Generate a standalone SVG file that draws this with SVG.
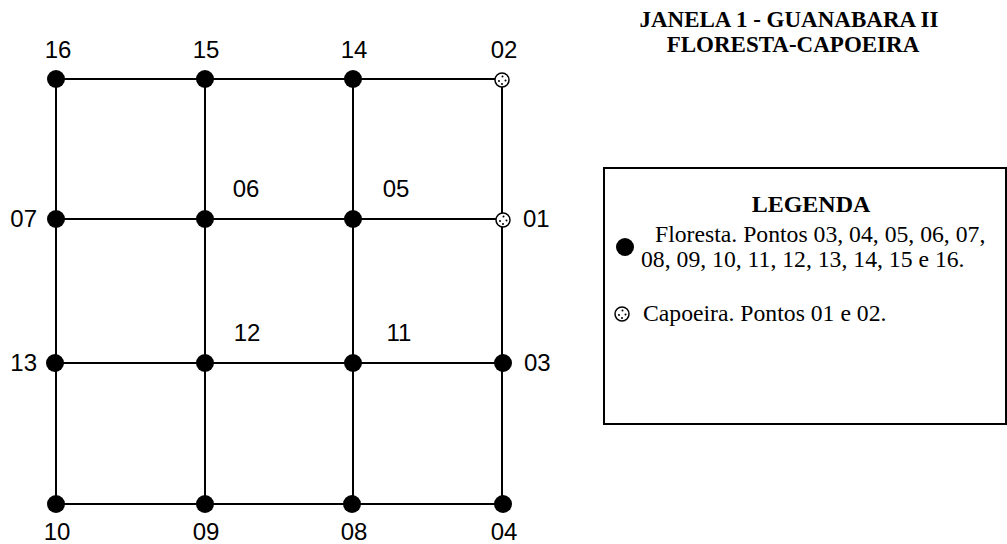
<svg xmlns="http://www.w3.org/2000/svg" width="1007" height="544" viewBox="0 0 1007 544">
<style>
.edge{stroke:#000;stroke-width:2;fill:none}
.dot{fill:#000}
.cap{fill:#fff;stroke:#000;stroke-width:1.5}
.lbl{font-family:"Liberation Sans",Arial,sans-serif;font-size:24px;fill:#000}
.ttl{font-family:"Liberation Serif","Times New Roman",serif;font-size:23px;font-weight:bold;fill:#000}
.leg{font-family:"Liberation Serif","Times New Roman",serif;font-size:23.7px;fill:#000}
</style>
<defs>
<g id="capsym">
<circle r="7" class="cap"/>
<circle cx="0.5" cy="-3.5" r="1" class="dot"/>
<circle cx="-3" cy="1" r="1" class="dot"/>
<circle cx="3.5" cy="0.5" r="1" class="dot"/>
<circle cx="0" cy="4" r="1" class="dot"/>
</g>
</defs>
<rect width="1007" height="544" fill="#fff"/>
<g id="connectors">
<line class="edge" x1="56" y1="79" x2="502" y2="79"/>
<line class="edge" x1="56" y1="219" x2="502" y2="219"/>
<line class="edge" x1="56" y1="363" x2="502" y2="363"/>
<line class="edge" x1="56" y1="504" x2="502" y2="504"/>
<line class="edge" x1="56" y1="79" x2="56" y2="504"/>
<line class="edge" x1="205" y1="79" x2="205" y2="504"/>
<line class="edge" x1="353" y1="79" x2="353" y2="504"/>
<line class="edge" x1="502" y1="79" x2="502" y2="504"/>
</g>
<g id="n16"><circle class="dot" cx="56" cy="79" r="9"/><text class="lbl" x="58" y="58" text-anchor="middle">16</text></g>
<g id="n15"><circle class="dot" cx="205" cy="79" r="9"/><text class="lbl" x="206" y="58" text-anchor="middle">15</text></g>
<g id="n14"><circle class="dot" cx="353" cy="79" r="9"/><text class="lbl" x="354" y="58" text-anchor="middle">14</text></g>
<g id="n02"><use href="#capsym" x="502" y="80"/><text class="lbl" x="504" y="58" text-anchor="middle">02</text></g>
<g id="n07"><circle class="dot" cx="56" cy="219" r="9"/><text class="lbl" x="37" y="227" text-anchor="end">07</text></g>
<g id="n06"><circle class="dot" cx="205" cy="219" r="9"/><text class="lbl" x="246" y="197" text-anchor="middle">06</text></g>
<g id="n05"><circle class="dot" cx="353" cy="219" r="9"/><text class="lbl" x="396" y="197" text-anchor="middle">05</text></g>
<g id="n01"><use href="#capsym" x="503" y="220"/><text class="lbl" x="523" y="227">01</text></g>
<g id="n13"><circle class="dot" cx="55" cy="363" r="9"/><text class="lbl" x="37" y="371" text-anchor="end">13</text></g>
<g id="n12"><circle class="dot" cx="205" cy="363" r="9"/><text class="lbl" x="247" y="341" text-anchor="middle">12</text></g>
<g id="n11"><circle class="dot" cx="353" cy="363" r="9"/><text class="lbl" x="399" y="341" text-anchor="middle">11</text></g>
<g id="n03"><circle class="dot" cx="503" cy="363" r="9"/><text class="lbl" x="524" y="371">03</text></g>
<g id="n10"><circle class="dot" cx="56" cy="504" r="9"/><text class="lbl" x="57" y="540" text-anchor="middle">10</text></g>
<g id="n09"><circle class="dot" cx="205" cy="504" r="9"/><text class="lbl" x="206" y="540" text-anchor="middle">09</text></g>
<g id="n08"><circle class="dot" cx="352" cy="504" r="9"/><text class="lbl" x="354" y="540" text-anchor="middle">08</text></g>
<g id="n04"><circle class="dot" cx="503" cy="504" r="9"/><text class="lbl" x="504" y="540" text-anchor="middle">04</text></g>
<g id="title">
<text class="ttl" x="789" y="27" text-anchor="middle">JANELA 1 - GUANABARA II</text>
<text class="ttl" x="793" y="52" text-anchor="middle">FLORESTA-CAPOEIRA</text>
</g>
<g id="legend">
<rect x="604" y="168" width="402" height="256" fill="none" stroke="#000" stroke-width="2"/>
<text class="ttl" x="811" y="212" text-anchor="middle" style="font-size:24px">LEGENDA</text>
<circle class="dot" cx="625" cy="247" r="9"/>
<text class="leg" x="655" y="242">Floresta. Pontos 03, 04, 05, 06, 07,</text>
<text class="leg" x="641" y="267">08, 09, 10, 11, 12, 13, 14, 15 e 16.</text>
<use href="#capsym" x="622" y="314"/>
<text class="leg" x="643" y="321">Capoeira. Pontos 01 e 02.</text>
</g>
</svg>
